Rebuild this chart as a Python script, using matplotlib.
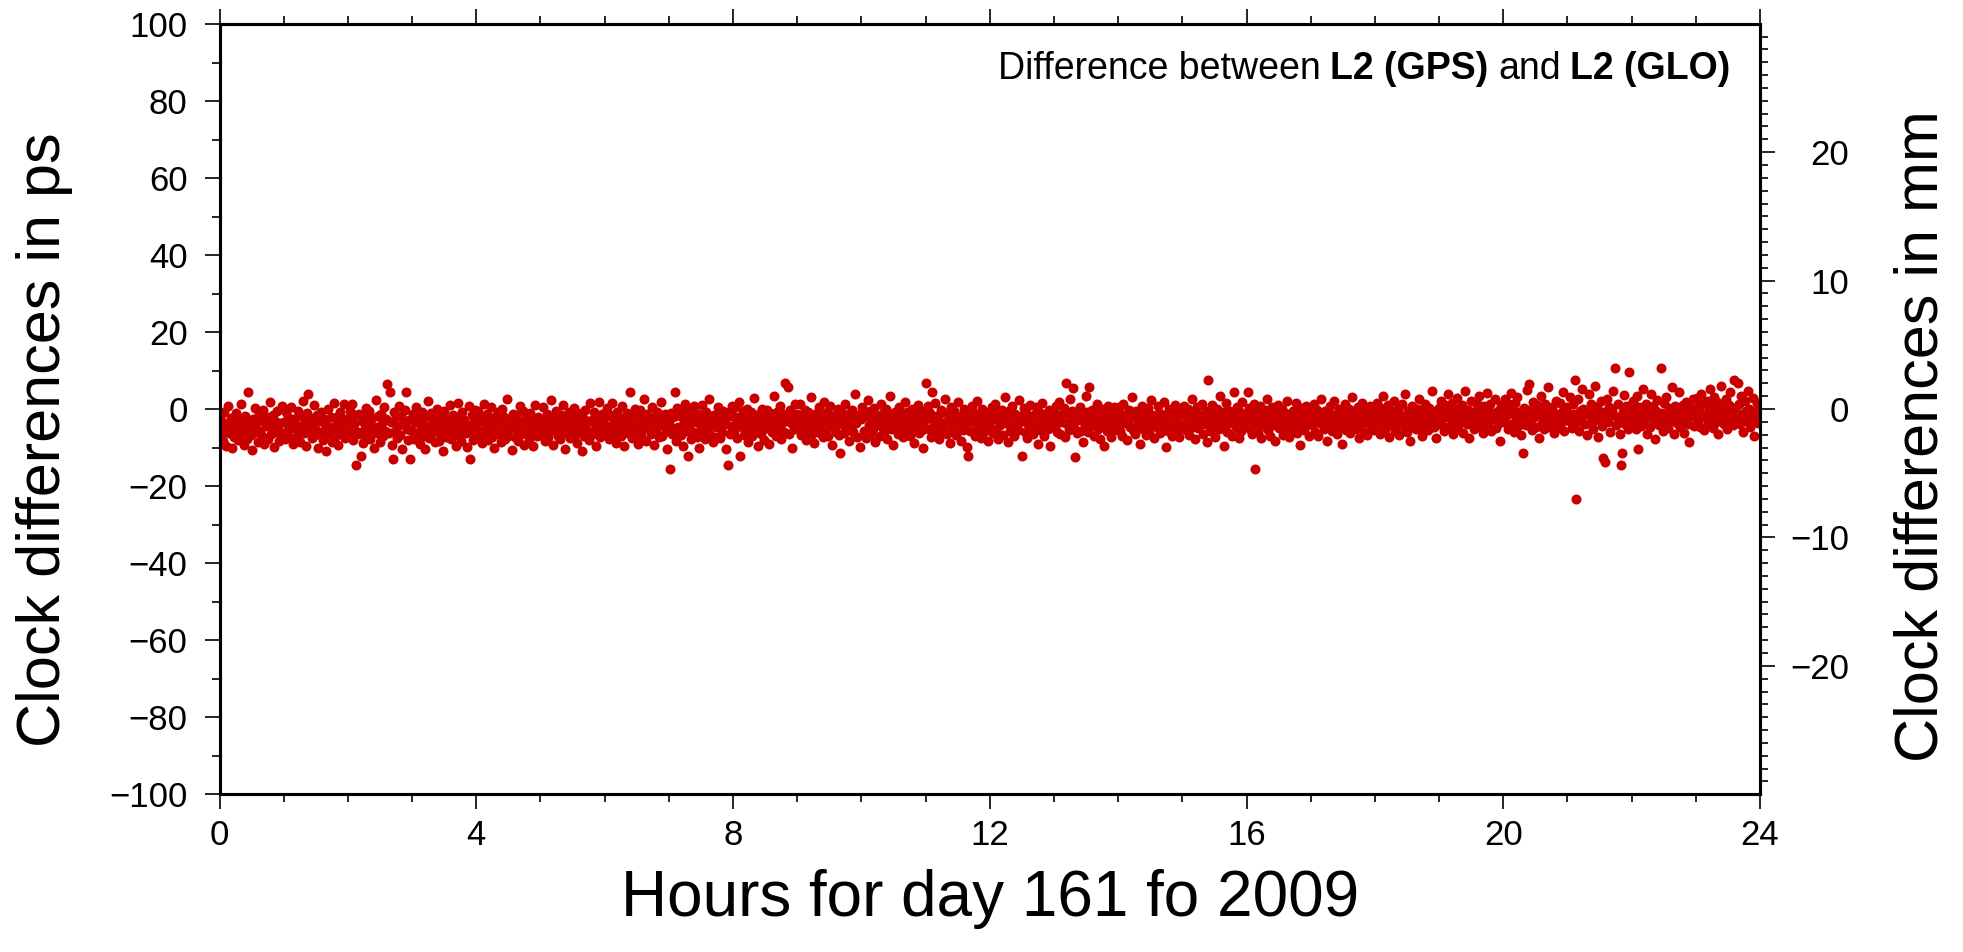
import numpy as np
import matplotlib
matplotlib.use("Agg")
import matplotlib.pyplot as plt
from matplotlib.ticker import MultipleLocator
from matplotlib.offsetbox import TextArea, HPacker, AnchoredOffsetbox

plt.rcParams['font.family'] = ['Liberation Sans', 'DejaVu Sans']

# ---------------- data (clock differences in ps, one list per hour, 1-min sampling) -------------
hour_start = list(range(24))
clock_ps = [
 [-2.1,-6.9,-3.5,-8.2,-0.9,-5.4,-9.6,-4.0,0.8,-6.3,-4.8,-2.4,-10.2,-3.7,-7.4,-1.0,-5.9,-8.0,-2.8,-4.6,
  1.4,-6.6,-3.9,-9.3,-1.7,-5.1,-7.7,4.3,-3.1,-6.8,-10.6,-2.5,-5.0,0.3,-6.0,-3.4,-8.6,-1.4,-5.7,-2.9,
  -7.1,-0.2,-9.0,-4.4,-2.0,-7.9,-4.1,1.9,-6.4,-5.2,-1.6,-9.8,-3.2,-6.1,-0.6,-5.5,-8.4,-3.6,0.9,-6.7],
 [-3.3,-7.8,-0.8,-5.6,-2.0,-7.2,-4.3,0.4,-5.0,-9.1,-2.6,-4.7,-6.9,-0.4,-4.5,-8.5,-1.8,-5.8,2.0,-6.2,
  -3.5,-9.7,-1.1,3.9,-5.3,-2.3,-7.6,-4.0,1.1,-6.8,-5.5,-1.5,-10.0,-3.0,-6.4,-0.7,-5.9,-8.1,-2.7,-3.8,
  -10.8,0.0,-6.6,-4.6,-2.1,-8.7,-5.2,1.6,-7.3,-4.1,-2.2,-9.4,-5.7,-0.9,-6.5,-3.6,1.3,-7.5,-2.5,-5.4],
 [-2.9,-7.0,-0.6,-5.3,1.2,-8.1,-3.8,-1.5,-14.5,-5.9,-1.2,-6.6,-12.3,-3.1,-8.8,-2.0,-5.0,0.3,-7.4,-4.2,
  -0.5,-7.9,-5.4,-2.4,-10.1,-4.6,2.4,-6.3,-1.9,-4.9,-8.5,-1.3,-3.7,-6.9,0.6,-5.6,-2.6,6.5,-6.2,4.5,
  -3.4,-9.3,-13.0,-0.8,-5.8,-2.2,-7.5,-4.4,0.9,-6.7,-1.7,-10.5,-3.6,-0.2,4.4,-5.1,-8.0,-2.8,-12.9,-5.5],
 [-5.7,-1.4,-7.9,-3.3,0.5,-6.5,-2.3,-9.2,-4.8,-0.7,-7.1,-3.9,-10.4,-1.8,-5.2,2.1,-7.6,-4.3,-1.1,-6.2,
  -2.7,-8.6,-5.6,0.0,-3.6,-8.3,-1.9,-6.8,-4.9,-10.9,-0.4,-4.5,-7.3,-2.5,-5.9,1.0,-7.8,-3.9,-1.5,-6.6,
  -5.1,-9.6,-2.1,1.6,-6.9,-3.5,-8.4,-0.9,-5.3,-2.9,-6.3,-9.9,-4.2,0.7,-13.0,-6.0,-1.6,-8.1,-3.4,-0.3],
 [-4.4,-7.5,-0.6,-5.8,-2.3,-8.9,-3.2,1.3,-6.7,-4.7,-1.4,-8.0,-2.7,-5.5,0.4,-7.2,-3.6,-10.1,-1.7,-6.1,
  -0.9,-6.4,-4.0,-8.6,0.1,-5.3,-2.0,-7.7,-4.6,2.6,-6.9,-2.6,-5.0,-10.7,-1.2,-3.8,-7.4,-1.6,-5.7,-8.3,
  -3.3,0.8,-6.5,-5.4,-0.4,-9.3,-2.5,-5.9,-4.1,-7.9,-1.0,-6.3,-2.9,-9.7,-5.1,1.1,-3.7,-7.0,-2.2,-4.8],
 [-2.6,-6.7,0.5,-4.9,-8.4,-3.8,-1.2,-7.3,-2.0,-5.8,2.4,-4.3,-9.3,-2.8,-5.2,-0.4,-6.9,-3.4,-7.8,-1.5,
  -5.6,1.0,-4.1,-10.4,-2.3,-6.3,-4.6,-0.8,-7.5,-2.6,-5.0,0.2,-6.8,-3.5,-8.9,-1.1,-6.0,-1.8,-4.4,-10.9,
  -2.4,-7.1,-0.2,-5.1,-3.2,-8.0,1.5,-6.1,-2.9,-6.5,-0.9,-4.0,-9.5,-2.1,-5.5,1.8,-7.2,-3.7,-1.3,-5.8],
 [-2.0,-6.0,0.3,-4.4,-7.9,-1.6,-5.1,1.5,-6.7,-2.9,-4.0,-8.8,-0.7,-5.5,-2.3,-7.1,0.9,-3.6,-9.6,-2.5,
  -4.8,-1.0,-6.3,-3.7,4.5,-1.9,-7.6,-4.5,-0.1,-5.9,-2.2,-9.1,-3.3,-0.3,-6.9,-2.6,-5.3,2.7,-4.1,-8.2,
  -1.3,-5.0,-2.9,-6.6,0.6,-3.9,-9.4,-2.0,-6.2,-0.8,-4.3,-7.4,-2.4,1.9,-7.0,-3.6,-1.4,-5.6,-10.3,-2.7],
 [-3.9,-15.6,-1.1,-6.4,-2.2,-5.2,4.5,-8.3,0.2,-4.6,-1.8,-6.8,-0.6,-9.5,-3.7,1.4,-5.7,-2.4,-12.3,-4.3,
  -0.4,-7.7,-2.1,-6.1,0.7,-3.5,-7.2,-1.3,-10.0,-2.8,-5.0,1.1,-6.4,-3.9,-7.9,-0.8,-5.4,-1.9,2.6,-6.9,
  -3.4,-8.7,-1.5,-4.8,-2.3,-7.3,0.4,-4.2,-7.5,-1.7,-5.9,-0.5,-3.8,-10.4,-2.0,-14.5,-0.9,-6.6,-4.5,0.8],
 [-1.8,-5.8,0.6,-4.0,-7.5,-2.2,1.7,-12.3,-4.6,-0.6,-6.7,-2.9,-5.3,0.1,-8.5,-1.7,-4.3,-0.9,-7.0,-2.9,
  2.8,-5.6,-3.6,-9.7,-1.2,-2.5,-6.4,-0.1,-4.7,-8.0,-2.0,-5.0,-0.3,-3.9,-9.1,-1.1,-6.1,-2.6,3.4,-4.2,
  -6.9,-0.8,-2.8,-5.5,0.9,-7.7,-3.6,-1.4,-6.0,6.7,-2.4,5.7,-6.6,-0.2,-3.7,-10.2,-2.1,-5.2,1.3,-4.4],
 [-1.3,-5.3,-3.1,1.2,-6.7,-1.9,-4.4,-0.2,-8.0,-2.6,-0.7,-5.8,-3.7,3.0,-6.5,-2.1,-8.8,-1.2,-4.9,-2.9,
  0.4,-6.2,-1.8,-4.1,-7.4,1.8,-2.7,-5.5,-0.8,-7.0,-3.4,0.9,-2.3,-9.3,-4.8,-1.5,-6.0,-2.5,0.1,-6.8,
  -11.5,-0.4,-3.9,-2.2,-6.3,1.4,-5.2,-3.0,-8.2,-1.0,-4.6,-0.3,-5.9,-2.0,3.9,-3.6,-7.3,-1.6,-2.4,-9.8],
 [-2.7,0.6,-5.6,-1.5,-7.6,-1.9,2.4,-4.2,-0.5,-6.4,-2.9,-5.1,0.2,-8.5,-1.8,-3.9,-2.3,-6.9,1.3,-4.7,
  -1.0,-5.9,-2.6,-0.1,-7.9,-3.4,-1.2,3.3,-5.3,-2.0,-9.4,-0.7,-4.4,-3.0,-6.6,0.5,-5.7,-1.6,-3.8,-7.3,
  -2.4,1.7,-6.1,-0.9,-3.6,-7.1,-1.9,0.0,-5.0,-8.8,-1.1,-2.8,-4.8,1.0,-6.3,-2.2,-0.6,-5.4,-10.1,-3.1],
 [6.7,-2.4,0.9,-5.3,-1.1,-7.2,4.5,-2.8,-4.1,1.5,-6.0,-1.7,-2.3,-7.8,-0.2,-4.5,-0.9,-5.7,2.7,-3.3,
  -6.5,-1.4,-3.7,-8.9,0.4,-2.5,-5.1,-0.6,-6.8,-2.9,1.9,-4.6,-1.8,-8.2,-2.2,-5.4,0.1,-3.8,-1.2,-9.8,
  -12.3,-2.6,-5.8,0.7,-3.5,-1.0,-7.0,-2.1,2.2,-5.2,-1.5,-4.3,-7.5,-0.1,-3.0,-6.1,-0.8,-4.0,-8.4,-2.4],
 [-1.6,-4.9,0.4,-6.3,-2.5,1.3,-5.4,-0.9,-7.9,-3.2,-4.2,-0.3,-6.7,-1.8,3.2,-3.7,-2.6,-8.6,-0.6,-5.8,
  -2.1,0.7,-4.6,-7.1,-1.4,-2.9,-5.5,2.3,-3.5,-1.7,-12.3,-2.6,0.2,-6.1,-1.1,-7.6,-3.9,-2.0,1.1,-5.0,
  -6.5,-1.5,-4.4,0.6,-2.8,-9.2,-0.7,-5.4,-3.1,1.6,-4.0,-6.9,-1.2,-2.4,-5.2,-0.2,-9.7,-3.3,-1.3,-4.8],
 [-1.0,-4.6,0.8,-6.0,-2.4,1.7,-6.6,-1.6,-3.3,0.3,-7.4,6.7,-3.8,-1.2,-5.4,2.6,-2.8,-0.5,5.5,-4.9,
  -12.4,-1.9,-6.3,-2.9,0.6,-5.6,-1.3,-8.5,-2.1,-4.1,3.4,-0.9,-6.1,5.7,-2.5,-4.5,-0.2,-6.9,-1.7,-3.4,
  1.3,-5.1,-1.4,-7.8,-2.6,0.1,-4.2,-9.5,-1.0,-2.3,-5.7,0.9,-3.6,-7.2,-1.6,-3.1,0.5,-5.5,-0.8,-4.5],
 [-2.6,0.5,-5.7,-1.4,-7.1,1.4,-3.6,-1.9,-8.1,-2.9,-0.2,-4.6,-1.0,3.1,-5.4,-2.2,-6.5,-0.5,-4.1,-1.6,
  -9.0,-2.5,0.9,-5.1,-0.8,-3.9,-6.8,-3.0,0.2,-6.0,-1.3,2.4,-4.4,-2.0,-7.6,-1.5,-4.8,0.7,-3.2,-6.3,
  -1.2,-5.3,-2.7,1.8,-3.8,-9.8,-1.8,-5.8,-0.1,-2.4,-7.0,-0.9,-4.3,1.1,-3.1,-5.6,-1.9,-7.4,0.3,-4.0],
 [-1.1,-4.5,0.9,-5.5,-2.2,-0.1,-6.7,-1.7,-3.3,2.7,-4.8,-0.8,-7.9,-2.6,0.4,-5.0,-1.5,-3.0,1.4,-6.4,
  -2.0,-4.0,-0.4,-8.7,7.6,-2.5,-5.8,-1.2,1.0,-3.8,-2.3,-7.2,0.1,-1.6,-5.2,3.5,-3.0,-4.3,-0.9,-9.5,
  -2.4,1.6,-6.0,-1.9,-3.7,-0.6,-6.9,-2.7,4.5,-1.3,-5.0,0.5,-3.2,-7.5,-0.7,-5.6,1.8,-2.6,-4.2,-1.5],
 [-2.3,4.5,0.2,-5.2,-1.3,-6.5,-3.0,1.3,-15.5,-3.9,-0.9,-5.9,-2.5,0.7,-7.6,-1.9,-4.4,-0.2,-3.3,2.6,
  -5.5,-1.6,-7.1,-2.3,0.4,-4.1,-0.8,-8.4,-2.8,1.1,-5.0,-2.0,-3.8,0.0,-6.8,-2.7,-1.0,-4.6,2.1,-3.3,
  -7.3,-1.5,-5.8,-0.5,-2.5,-4.0,1.6,-6.3,-1.8,-2.9,-9.4,0.3,-4.8,-1.2,-5.4,-2.2,0.9,-3.7,-6.9,-1.0],
 [-0.8,-4.2,-2.0,1.4,-6.1,-2.7,-0.2,-7.0,-1.4,-3.7,2.7,-2.4,-5.3,-0.6,-3.1,-8.3,-1.0,-4.5,0.8,-2.7,
  -5.8,-1.5,2.1,-4.0,-2.2,-6.6,0.1,-1.9,-4.7,-9.0,-0.9,-3.0,1.2,-5.4,-1.6,-3.9,-0.1,-6.3,-2.5,3.2,
  -4.4,-1.0,-5.1,-3.4,0.4,-7.5,-1.8,-4.1,1.6,-2.9,-5.9,-0.3,-1.4,-6.8,-3.5,0.9,-4.6,-1.4,-2.4,-5.5],
 [-0.4,-3.8,1.6,-4.9,-1.7,-6.4,0.2,-2.8,3.3,-5.3,-1.2,-3.2,1.0,-7.3,-2.0,-4.2,-0.5,-2.4,2.2,-5.7,
  -1.1,-3.9,0.0,-6.7,-2.9,1.4,-1.8,-4.6,4.0,-2.5,-6.0,-0.6,-1.5,-8.4,-3.3,0.8,-4.3,-1.0,-5.2,-0.1,
  -2.6,2.6,-5.0,-1.9,-6.9,-0.3,-3.0,1.2,-4.0,-1.4,-5.5,0.3,-3.4,4.6,-2.1,-4.7,-0.6,-7.6,-1.3,-2.4],
 [0.2,-3.2,2.2,-4.2,-1.2,-5.8,1.0,-2.1,3.8,-4.7,-0.5,-2.7,1.6,-6.6,-1.6,-3.5,-0.1,2.9,-5.1,-1.2,
  -3.3,1.1,-6.2,-0.8,4.8,-2.3,-4.0,-0.2,-7.5,-1.7,2.0,-3.8,-0.9,-5.3,-1.4,1.4,-2.9,3.4,-4.6,-0.6,
  -2.2,-6.3,0.7,-3.4,-0.3,4.2,-4.4,-1.5,1.3,-5.6,-1.0,-2.6,2.6,-4.9,-2.0,-0.4,-3.7,-8.4,1.0,-1.8],
 [0.1,-3.5,2.5,-1.9,-5.1,1.2,-1.0,4.1,-3.9,-0.5,-5.9,1.5,-2.4,3.0,-4.4,-0.8,-3.0,-6.8,-11.5,0.3,
  -2.0,-4.2,5.0,-0.3,6.5,-3.4,-1.3,-5.5,1.9,-2.2,-0.6,-4.8,1.0,-7.6,-1.6,3.5,-3.7,-0.9,-5.2,1.4,
  -1.9,-2.7,5.6,-0.4,-4.6,-1.4,0.6,-6.3,-3.1,2.1,-1.2,-5.0,-2.4,1.6,-3.6,-0.7,4.4,-5.7,-1.7,0.0],
 [0.5,-3.0,3.1,-1.7,-4.9,1.3,-1.2,7.5,-23.5,-3.3,2.5,-5.6,-0.6,-2.1,5.2,0.1,-4.0,-1.4,-6.8,-0.3,
  4.0,-3.6,1.2,-2.4,-5.3,-0.7,6.0,-2.8,0.4,-7.4,-1.8,2.2,-4.4,-12.7,-0.9,-13.7,-2.6,2.7,-3.5,0.6,
  -6.1,-1.5,-0.4,4.6,10.6,-4.2,-2.0,1.4,-3.1,-6.5,-14.5,-11.5,-0.8,3.6,-3.9,0.9,-2.3,-5.1,9.6,-0.1],
 [-2.0,2.0,-3.8,-0.4,-5.3,3.4,-10.5,0.6,-2.6,-4.5,-0.9,5.1,-3.0,1.2,-6.6,-1.5,-0.1,-4.8,3.8,-2.2,
  0.9,-3.5,-7.8,-0.6,2.4,-2.5,-4.1,10.6,-1.0,-5.8,1.5,-2.9,3.0,-1.7,-5.0,0.3,-3.2,-0.7,5.8,-2.1,
  -6.4,0.8,-3.7,-1.1,4.3,-4.6,-0.2,-2.4,1.1,-6.2,-2.9,1.8,-0.9,-4.0,-8.6,0.5,-1.8,2.6,-4.3,-0.5],
 [-1.0,2.8,-3.0,0.9,-4.6,3.9,-1.4,1.3,-5.5,-2.0,2.2,-3.7,-0.2,5.3,-2.4,0.7,-5.0,3.1,-1.5,-3.3,
  1.7,-6.4,-0.6,-2.7,6.0,0.5,-4.0,-1.0,2.5,-5.2,-1.8,1.0,4.3,-3.4,-0.8,-4.2,7.6,0.2,-2.3,6.7,
  1.2,-3.8,3.4,-1.2,-5.9,-2.2,2.0,-0.4,-3.0,4.8,0.1,-4.7,-1.6,2.9,-7.0,-0.7,-2.8,1.5,-3.6,0.4],
]

x_ticks = [0, 4, 8, 12, 16, 20, 24]
y_ticks_ps = [-100, -80, -60, -40, -20, 0, 20, 40, 60, 80, 100]
y_ticks_mm = [-20, -10, 0, 10, 20]
PS_TO_MM = 0.299792458  # light travel distance per picosecond

title_parts = [("Difference between", "normal"), ("L2 (GPS)", "bold"),
               ("and", "normal"), ("L2 (GLO)", "bold")]

# build sample times (one sample per minute within each hour)
times, values = [], []
for h, vals in zip(hour_start, clock_ps):
    n = len(vals)
    times.extend(h + np.arange(n) / n)
    values.extend(vals)
times = np.array(times)
values = np.array(values)

# ---------------- figure ----------------
W, H = 1963, 952
fig = plt.figure(figsize=(W / 100, H / 100), dpi=100)
L, R, T, B = 219.5, 1760, 24, 794
ax = fig.add_axes([L / W, 1 - B / H, (R - L) / W, (B - T) / H])

ax.scatter(times, values, s=52, color='#c80000', linewidths=0, zorder=3)

ax.set_xlim(0, 24)
ax.set_ylim(-100, 100)
ax.set_xticks(x_ticks)
ax.set_yticks(y_ticks_ps)
ax.xaxis.set_minor_locator(MultipleLocator(1))
ax.yaxis.set_minor_locator(MultipleLocator(10))

for sp in ax.spines.values():
    sp.set_linewidth(2.2)

ax.tick_params(axis='both', which='major', direction='out', length=11, width=1.2,
               labelsize=25, top=True, right=False)
ax.tick_params(axis='both', which='minor', direction='out', length=5.5, width=1.2,
               top=True, right=False)
ax.tick_params(axis='y', which='major', pad=12)
ax.tick_params(axis='x', which='major', pad=7)

ax.set_xlabel("Hours for day 161 fo 2009", fontsize=46, labelpad=12)
ax.set_ylabel("Clock differences in ps", fontsize=44, labelpad=26)
ax.yaxis.label.set_y(0.46)

# right axis in mm
ax2 = ax.twinx()
ax2.set_ylim(-100 * PS_TO_MM, 100 * PS_TO_MM)
ax2.set_yticks(y_ticks_mm)
ax2.yaxis.set_minor_locator(MultipleLocator(1))
for sp in ax2.spines.values():
    sp.set_linewidth(2.2)
ax2.tick_params(axis='y', which='major', direction='out', length=11, width=1.2,
                labelsize=25, pad=53)
ax2.tick_params(axis='y', which='minor', direction='out', length=5.5, width=1.2)
for lab in ax2.get_yticklabels():
    lab.set_horizontalalignment('right')
ax2.set_ylabel("Clock differences in mm", fontsize=44, labelpad=32)
ax2.yaxis.label.set_y(0.465)

# annotation with mixed weights
boxes = [TextArea(t, textprops=dict(fontsize=27, fontweight=w, color='black'))
         for t, w in title_parts]
pack = HPacker(children=boxes, align="baseline", pad=0, sep=7)
anch = AnchoredOffsetbox(loc='center right', child=pack, frameon=False,
                         bbox_to_anchor=(0.981, 0.9416), bbox_transform=ax.transAxes,
                         borderpad=0, pad=0)
ax.add_artist(anch)

fig.savefig("out.png", dpi=100)
